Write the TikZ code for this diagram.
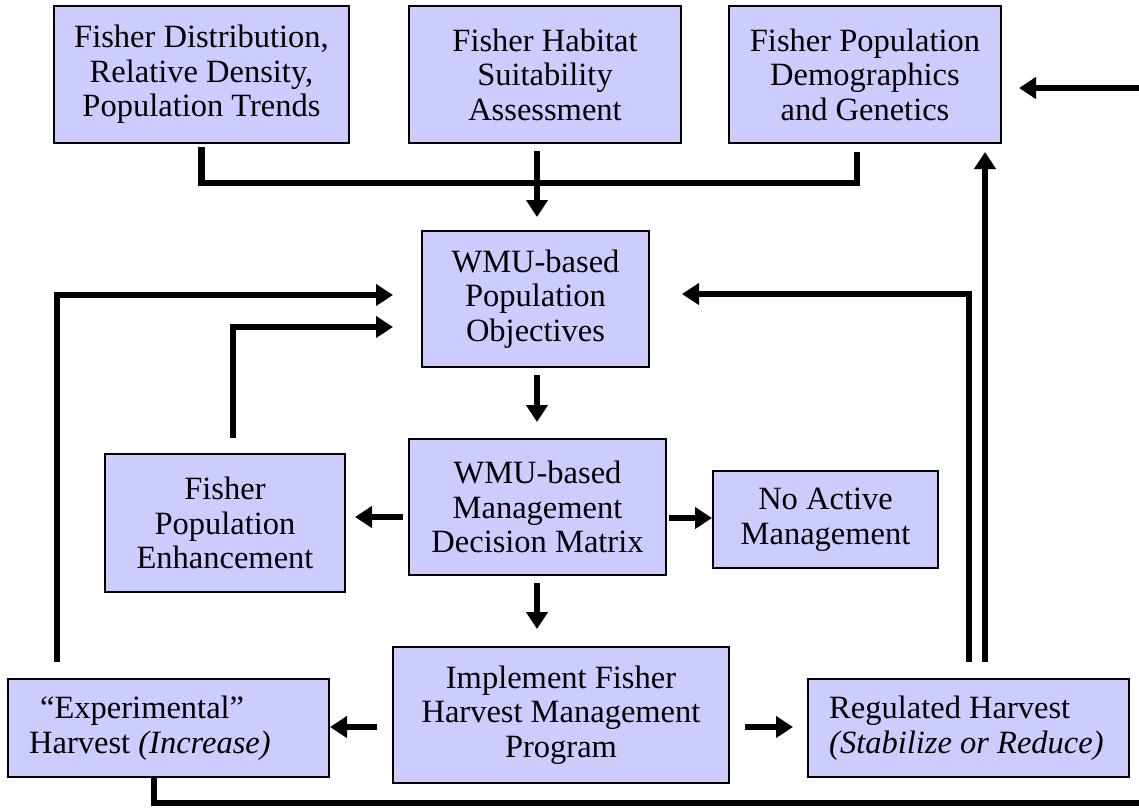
\documentclass[tikz,border=0pt]{standalone}
\usepackage{fontspec}
\setmainfont{Liberation Serif}
\usetikzlibrary{arrows.meta}
\definecolor{boxfill}{HTML}{CCCCFF}
\begin{document}
\begin{tikzpicture}[x=1pt,y=-1pt,
  box/.style={draw=black, fill=boxfill, line width=1.5pt, inner sep=0pt, align=center,
    font=\fontsize{32.5}{34.5}\selectfont},
  txt/.style={inner sep=0pt, align=left, font=\fontsize{32.5}{34.5}\selectfont},
  ln/.style={line width=6.5pt, line join=miter, line cap=butt},
  arr/.style={ln, -{Triangle[length=17pt,width=21pt]}}]
\useasboundingbox (0,0) rectangle (1139,809);
\fill[white] (0,0) rectangle (1139,809);
% boxes
\node[box, minimum width=295pt, minimum height=137pt] (b1) at (201.5,74.5) {Fisher Distribution,\\Relative Density,\\Population Trends};
\node[box, minimum width=272pt, minimum height=137pt] (b2) at (545,74.5) {Fisher Habitat\\Suitability\\Assessment};
\node[box, minimum width=272pt, minimum height=137pt] (b3) at (865,74.5) {Fisher Population\\Demographics\\and Genetics};
\node[box, minimum width=227pt, minimum height=136pt] (obj) at (535.5,299) {WMU-based\\Population\\Objectives};
\node[box, minimum width=257pt, minimum height=136pt] (mgmt) at (537.5,507) {WMU-based\\Management\\Decision Matrix};
\node[box, minimum width=240pt, minimum height=138pt] (enh) at (225,523) {Fisher\\Population\\Enhancement};
\node[box, minimum width=225pt, minimum height=97pt] (noact) at (825.5,519.5) {No Active\\Management};
\node[box, minimum width=336pt, minimum height=136pt] (impl) at (561,715) {Implement Fisher\\Harvest Management\\Program};
\node[box, minimum width=321pt, minimum height=98pt] (exp) at (168.5,728) {};
\node[txt, anchor=west] (exptxt) at (29,728) {\hspace*{11pt}“Experimental”\\Harvest \textit{(Increase)}};
\node[box, minimum width=321pt, minimum height=98pt] (reg) at (968.5,728) {};
\node[txt, anchor=west] (regtxt) at (829,728) {Regulated Harvest\\\textit{(Stabilize or Reduce)}};
% connector end points
\coordinate (inR) at (1139,88);
\coordinate (inRtip) at (1019,88);
\coordinate (bot) at (1139,803);
% connectors
\draw[ln] (201.5,147) -- (201.5,183) -- (857,183) -- (857,152);
\draw[arr] (537,151) -- (537,217);
\draw[arr] (inR) -- (inRtip);
\draw[arr] (537,375) -- (537,422);
\draw[arr] (403,517) -- (355,517);
\draw[arr] (669,518) -- (712,518);
\draw[arr] (537,583) -- (537,629);
\draw[arr] (377,727) -- (330,727);
\draw[arr] (745,727) -- (793,727);
\draw[arr] (57,662) -- (57,295) -- (393,295);
\draw[arr] (233,438) -- (233,327) -- (393,327);
\draw[arr] (969,662) -- (969,294) -- (682,294);
\draw[arr] (985,662) -- (985,152);
\draw[ln] (154,777) -- (154,803) -- (bot);
\end{tikzpicture}
\end{document}
